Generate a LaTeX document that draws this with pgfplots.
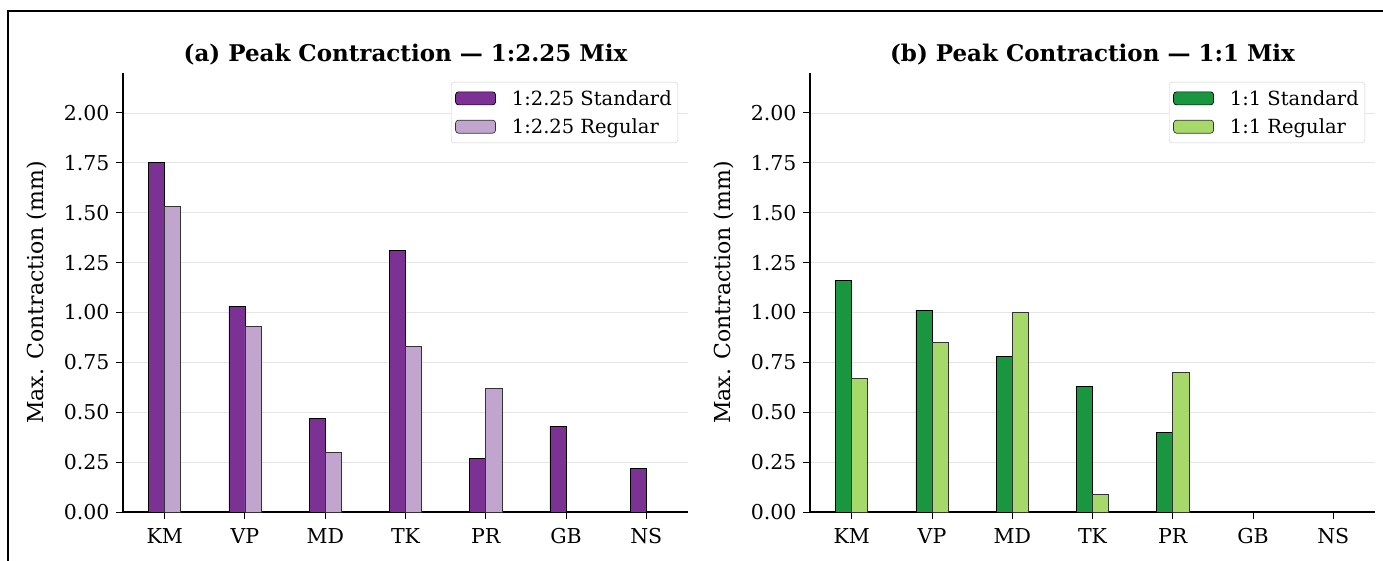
\documentclass[border=0pt]{standalone}
\usepackage{pgfplots}
\pgfplotsset{compat=1.18}
\usepackage{fontspec}
\setmainfont{DejaVu Serif}
\definecolor{pdark}{HTML}{7B3294}
\definecolor{plight}{HTML}{C2A5CF}
\definecolor{gdark}{HTML}{1A9641}
\definecolor{glight}{HTML}{A6D96A}
\pgfplotsset{
  common/.style={
    scale only axis, width=565pt, height=439pt, anchor=south west,
    axis lines=left, axis line style={-, line width=1.1pt},
    xmin=-0.52, xmax=6.52, ymin=0, ymax=2.2,
    xtick={0,...,6}, xticklabels={KM,VP,MD,TK,PR,GB,NS},
    ytick={0,0.25,...,2.0},
    yticklabel style={xshift=-3pt, /pgf/number format/fixed, /pgf/number format/fixed zerofill, /pgf/number format/precision=2},
    /pgf/number format/assume math mode=true,
    tick align=outside, major tick length=7pt,
    every tick/.style={black, line width=1pt},
    tick label style={font=\fontsize{20.5}{24}\selectfont},
    xticklabel style={yshift=-6pt},
    ymajorgrids, major grid style={color=black!10, line width=0.6pt},
    ylabel={Max. Contraction (mm)},
    every axis y label/.style={at={(axis description cs:-0.152,0.5)}, rotate=90, anchor=center, font=\fontsize{22}{26}\selectfont},
    title style={at={(axis description cs:0.5,1)}, anchor=base, yshift=5pt, font=\bfseries\fontsize{23}{27}\selectfont},
    legend style={at={(axis description cs:1,1)}, anchor=north east, xshift=-10pt, yshift=-9pt,
      draw=black!20, rounded corners=3pt, font=\fontsize{19.5}{23}\selectfont, inner xsep=4pt, inner ysep=6pt, row sep=8pt,
      /tikz/every odd column/.append style={column sep=14pt}},
    legend cell align=left,
    legend image code/.code={\draw[#1, line width=0.7pt] (0pt,-6.5pt) rectangle (40pt,6.5pt);},
  },
}
\begin{document}
\begin{tikzpicture}
\path[use as bounding box] (0pt,0pt) rectangle (1383pt,560pt);
\draw[line width=1.3pt] (8pt,-20pt) -- (8pt,549pt) -- (1400pt,549pt);
\begin{axis}[common, at={(123pt,48pt)}, title={(a) Peak Contraction — 1:2.25 Mix}]
\addplot[ybar, bar width=0.2, bar shift=-0.1, fill=pdark, draw=black, line width=0.6pt]
  coordinates {(0,1.75) (1,1.03) (2,0.47) (3,1.31) (4,0.27) (5,0.43) (6,0.22)};
\addlegendentry{1:2.25 Standard}
\addplot[ybar, bar width=0.2, bar shift=0.1, fill=plight, draw=black!80, line width=0.6pt]
  coordinates {(0,1.53) (1,0.93) (2,0.30) (3,0.83) (4,0.62)};
\addlegendentry{1:2.25 Regular}
\end{axis}
\begin{axis}[common, at={(810pt,48pt)}, title={(b) Peak Contraction — 1:1 Mix}]
\addplot[ybar, bar width=0.2, bar shift=-0.1, fill=gdark, draw=black, line width=0.6pt]
  coordinates {(0,1.16) (1,1.01) (2,0.78) (3,0.63) (4,0.40)};
\addlegendentry{1:1 Standard}
\addplot[ybar, bar width=0.2, bar shift=0.1, fill=glight, draw=black!80, line width=0.6pt]
  coordinates {(0,0.67) (1,0.85) (2,1.00) (3,0.09) (4,0.70)};
\addlegendentry{1:1 Regular}
\end{axis}
\end{tikzpicture}
\end{document}
